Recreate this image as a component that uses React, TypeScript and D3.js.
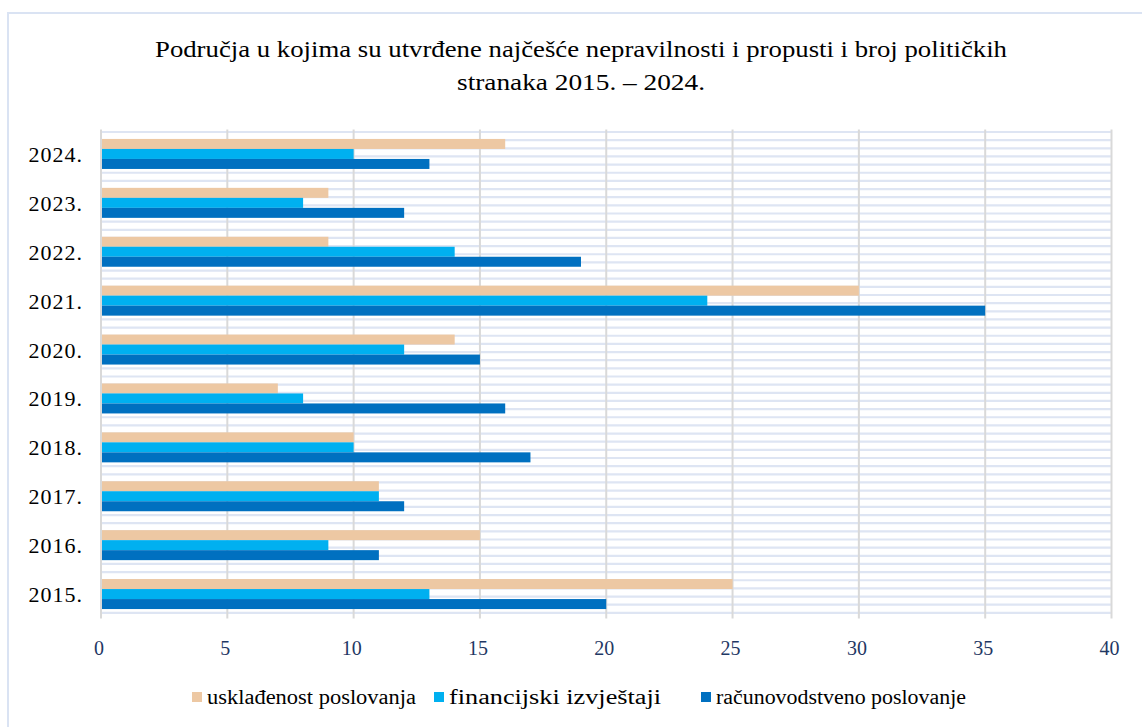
import React from 'react';
import * as d3 from 'd3';

const years = ['2015.', '2016.', '2017.', '2018.', '2019.', '2020.', '2021.', '2022.', '2023.', '2024.'];
const uskladenost = [25, 15, 11, 10, 7, 14, 30, 9, 9, 16];
const financijski = [13, 9, 11, 10, 8, 12, 24, 14, 8, 10];
const racunovodstveno = [20, 11, 12, 17, 16, 15, 35, 19, 12, 13];
const seriesNames = ['usklađenost poslovanja', 'financijski izvještaji', 'računovodstveno poslovanje'];
const xTicks = [0, 5, 10, 15, 20, 25, 30, 35, 40];
const titleLines = ['Područja u kojima su utvrđene najčešće nepravilnosti i propusti i broj političkih', 'stranaka 2015. – 2024.'];

const colors = ['#EDC8A3', '#00B0F0', '#0070C0'];
const FONT = '"Liberation Serif", "Times New Roman", serif';

export default function App() {
  const W = 1142, H = 727;
  const left = 101, right = 1111.5, top = 129.5, bottom = 618.5;
  const x = d3.scaleLinear().domain([0, 40]).range([left, right]);
  const yearsTopDown = [...years].reverse();
  const y = d3.scaleBand<string>().domain(yearsTopDown).range([top, bottom]).paddingInner(0).paddingOuter(0);
  const step = y.step();
  const barH = 10;
  const inner = d3.scaleBand<string>().domain(seriesNames).range([0, step]).paddingInner(0).paddingOuter((step / barH - 3) / 2);
  const seriesValues = [uskladenost, financijski, racunovodstveno];

  const minorLines = d3.range(0, years.length * 6).map(k => top + 2.5 + k * step / 6);

  const titleLen = [852, 248];
  const legendX = [192, 434, 701];
  const legendLen = [209, 212, 250];

  return (
    <div style={{ position: 'absolute', left: 0, top: 0, width: W, height: H, background: '#fff' }}>
      <svg width={W} height={H} style={{ display: 'block', fontFamily: FONT }}>
        <rect x={0} y={0} width={W} height={H} fill="#fff" />
        <path d={`M8,${H} L8,13 L${W},13`} fill="none" stroke="#dae3f3" strokeWidth={2} />
        {titleLines.map((t, i) => (
          <text key={i} x={581} y={57 + i * 33} textAnchor="middle" fontSize={22.5} fill="#000"
            textLength={titleLen[i]} lengthAdjust="spacingAndGlyphs">{t}</text>
        ))}
        {minorLines.map((yy, i) => (
          <line key={'h' + i} x1={left} x2={right} y1={yy} y2={yy} stroke="#dee5f3" strokeWidth={2.2} />
        ))}
        {xTicks.map(t => (
          <line key={'v' + t} x1={x(t)} x2={x(t)} y1={top} y2={bottom} stroke="#d9d9d9" strokeWidth={2} />
        ))}
        {seriesValues.map((vals, si) => (
          <g key={'s' + si}>
            {vals.map((v, i) => (
              <rect key={i} x={x(0) + 1} y={(y(years[i]) as number) + (inner(seriesNames[si]) as number)}
                width={x(v) - x(0) - 1} height={inner.bandwidth()} fill={colors[si]} />
            ))}
          </g>
        ))}
        {years.map(yr => (
          <text key={yr} x={83} y={(y(yr) as number) + step / 2 + 8} textAnchor="end" fontSize={22} letterSpacing={1} fill="#000">{yr}</text>
        ))}
        {xTicks.map(t => (
          <text key={'t' + t} x={x(t) - 2} y={655} textAnchor="middle" fontSize={20} fill="#1f3864">{t}</text>
        ))}
        {seriesNames.map((n, i) => (
          <g key={'l' + i}>
            <rect x={legendX[i]} y={692} width={10} height={10} fill={colors[i]} />
            <text x={legendX[i] + 15} y={704} fontSize={20} fill="#000"
              textLength={legendLen[i]} lengthAdjust="spacingAndGlyphs">{n}</text>
          </g>
        ))}
      </svg>
    </div>
  );
}
